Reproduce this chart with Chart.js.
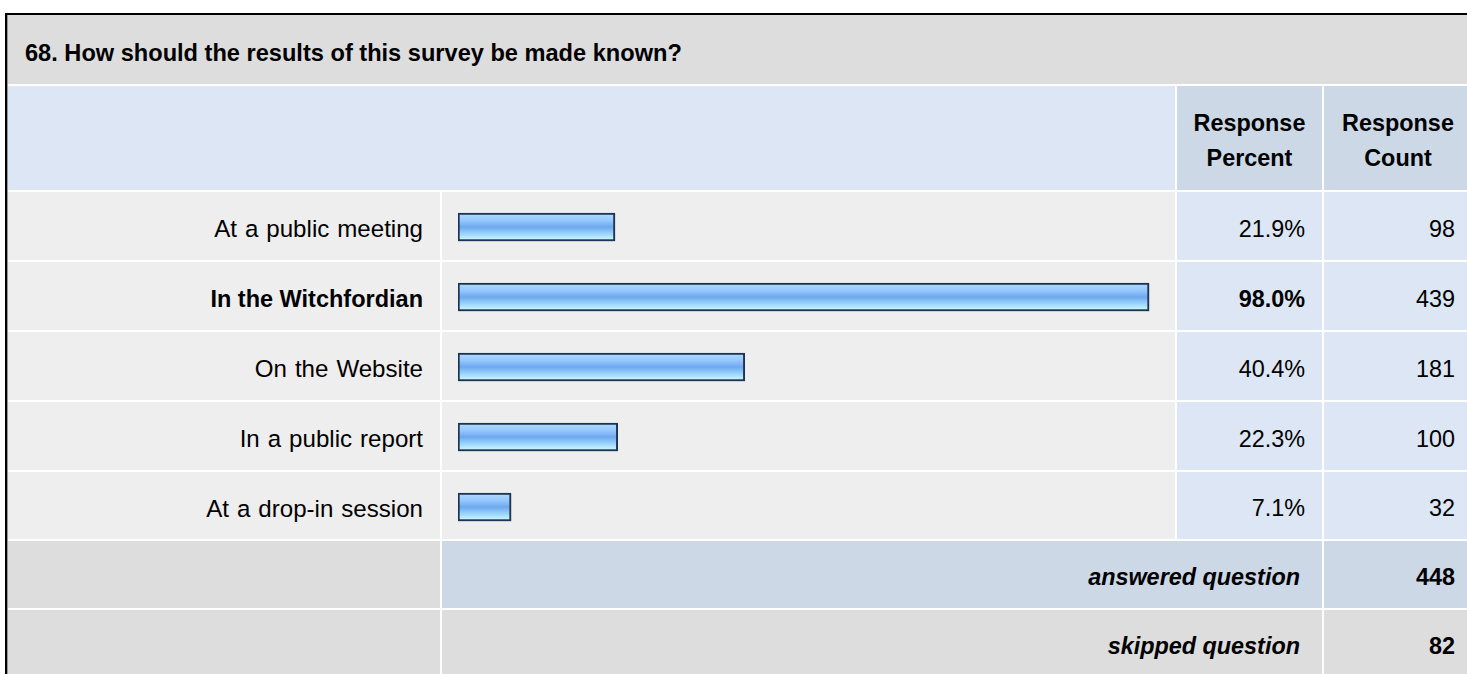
<!DOCTYPE html>
<html lang="en">
<head>
  <meta charset="UTF-8">
  <title>68. How should the results of this survey be made known?</title>
  <script src="https://cdn.jsdelivr.net/npm/chart.js"></script>
  <style>
    html, body {
      margin: 0;
      padding: 0;
      background: #fff;
      overflow: hidden;
      width: 1467px;
      height: 674px;
      font-family: "Liberation Sans", Arial, Helvetica, sans-serif;
      color: #000;
    }
    #frame {
      position: absolute;
      left: 5px;
      top: 13px;
      width: 1520px;
      height: 700px;
      border-top: 2px solid #000;
      border-left: 2px solid #000;
      background: #9a9a9a;
    }
    #grid {
      position: absolute;
      left: 8px;
      top: 15px;
      display: grid;
      grid-template-columns: 432px 733px 145px 148px;
      grid-template-rows: 69px 104px 68px 68px 68px 68px 67px 67px 67px;
      gap: 2px;
      background: #fff;
      font-size: 23.4px;
    }
    .cell {
      display: flex;
      align-items: center;
      box-sizing: border-box;
      padding-top: 6px;
    }
    .title { grid-column: 1 / span 4; background: #dddddd; font-weight: bold; padding-left: 17px; padding-top: 8px; font-size: 23.6px; }
    .head-blank { grid-column: 1 / span 2; background: #dce6f4; }
    .head { background: #ccd8e6; font-weight: bold; justify-content: center; text-align: center; line-height: 35px; padding-top: 5px; }
    .label { background: #eeeeee; justify-content: flex-end; padding-right: 17px; font-size: 24.1px; word-spacing: 1.3px; }
    .label.bold { font-size: 23.5px; word-spacing: 0; }
    .barcell { background: #eeeeee; }
    .num { background: #dce6f4; justify-content: flex-end; padding-right: 17px; }
    .sum-left { background: #dddddd; }
    .sum-label { grid-column: 2 / span 2; justify-content: flex-end; padding-right: 22px; font-weight: bold; font-style: italic; }
    .sum-num { justify-content: flex-end; padding-right: 17px; font-weight: bold; }
    .blue { background: #ccd8e6; }
    .gray { background: #dddddd; }
    .bold { font-weight: bold; }
    #chartBox {
      position: absolute;
      left: 442px;
      top: 192px;
      width: 733px;
      height: 350px;
    }
  </style>
</head>
<body>
  <div id="frame"></div>
  <div id="grid"></div>
  <div id="chartBox"><canvas id="barChart" width="733" height="350"></canvas></div>

  <script>
    const questionTitle = "68. How should the results of this survey be made known?";
    const categories = ["At a public meeting", "In the Witchfordian", "On the Website", "In a public report", "At a drop-in session"];
    const responsePercent = [21.9, 98.0, 40.4, 22.3, 7.1];
    const responseCount = [98, 439, 181, 100, 32];
    const summaryLabels = ["answered question", "skipped question"];
    const summaryCounts = [448, 82];

    const grid = document.getElementById('grid');
    function addCell(cls, html) {
      const d = document.createElement('div');
      d.className = 'cell ' + cls;
      d.innerHTML = html;
      grid.appendChild(d);
      return d;
    }

    addCell('title', questionTitle);
    addCell('head-blank', '');
    addCell('head', 'Response<br>Percent');
    addCell('head', 'Response<br>Count');

    const maxPct = Math.max(...responsePercent);
    categories.forEach((name, i) => {
      const top = responsePercent[i] === maxPct ? ' bold' : '';
      addCell('label' + top, name);
      addCell('barcell', '');
      addCell('num' + top, responsePercent[i].toFixed(1) + '%');
      addCell('num', String(responseCount[i]));
    });

    summaryLabels.forEach((name, i) => {
      const shade = i === 0 ? ' blue' : ' gray';
      addCell('sum-left', '');
      addCell('sum-label' + shade, name);
      addCell('sum-num' + shade, String(summaryCounts[i]));
    });

    // glossy blue fill, one gradient per bar, placed from the y scale
    function barFill(context) {
      const chart = context.chart;
      const yScale = chart.scales.y;
      if (!yScale || context.dataIndex === undefined) return '#84bcf4';
      const c = yScale.getPixelForValue(context.dataIndex);
      if (!Number.isFinite(c)) return '#84bcf4';
      const g = chart.ctx.createLinearGradient(0, c - 14, 0, c + 14);
      g.addColorStop(0, '#b2dbff');
      g.addColorStop(0.25, '#98caff');
      g.addColorStop(0.5, '#6ea8ee');
      g.addColorStop(0.75, '#9cd6fb');
      g.addColorStop(1, '#d2ffff');
      return g;
    }

    const shadowPlugin = {
      id: 'barShadow',
      beforeDatasetsDraw(chart) {
        const ctx = chart.ctx;
        ctx.save();
        ctx.shadowColor = 'rgba(60, 70, 90, 0.45)';
        ctx.shadowOffsetX = 1;
        ctx.shadowOffsetY = 1;
        ctx.shadowBlur = 0;
      },
      afterDatasetsDraw(chart) {
        chart.ctx.restore();
      }
    };

    // the bars start a little left of zero (room for the frame)
    const axisStart = -0.45;

    new Chart(document.getElementById('barChart').getContext('2d'), {
      type: 'bar',
      data: {
        labels: categories,
        datasets: [{
          data: responsePercent,
          base: axisStart,
          backgroundColor: barFill,
          borderColor: '#1b3354',
          borderWidth: 2,
          borderSkipped: false,
          barThickness: 28
        }]
      },
      options: {
        indexAxis: 'y',
        responsive: false,
        devicePixelRatio: 1,
        animation: false,
        events: [],
        layout: { padding: { left: 16, right: 12, top: 0, bottom: 0 } },
        scales: {
          x: { display: false, min: axisStart, max: 100 },
          y: { display: false }
        },
        plugins: {
          legend: { display: false },
          tooltip: { enabled: false }
        }
      },
      plugins: [shadowPlugin]
    });
  </script>
</body>
</html>
